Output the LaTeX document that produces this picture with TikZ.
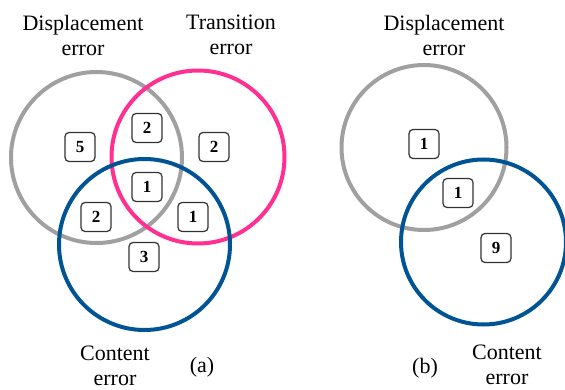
\documentclass[tikz,border=0pt]{standalone}
\usepackage{fontspec}
\setmainfont{Liberation Serif}
\newfontfamily\tnr{Liberation Serif}
\definecolor{dgray}{RGB}{160,160,160}
\definecolor{dpink}{RGB}{255,48,145}
\definecolor{dblue}{RGB}{0,84,148}
\begin{document}
\begin{tikzpicture}[x=1pt,y=-1pt,
  ring/.style={draw, line width=4pt},
  numbox/.style={draw=black!80, line width=1.2pt, rounded corners=4pt, minimum width=30pt, minimum height=29pt, inner sep=0pt, font=\tnr\fontsize{17}{17}\selectfont\bfseries},
  lbl/.style={align=center, font=\tnr\fontsize{22}{25}\selectfont}]
\useasboundingbox (0,0) rectangle (565,390);
% (a)
\draw[ring, dgray] (96.5,157.5) circle (85.5);
\draw[ring, dpink] (198,157) circle (86.5);
\draw[ring, dblue] (144.5,244.5) circle (85.5);
\node[numbox] (a5) at (80,147) {5};
\node[numbox] (a2t) at (147,128) {2};
\node[numbox] (a2r) at (214,147) {2};
\node[numbox] (a1c) at (147,187) {1};
\node[numbox] (a2l) at (96,217) {2};
\node[numbox] (a1r) at (193,217) {1};
\node[numbox] (a3) at (144,257) {3};
\node[lbl] (ad) at (83,35) {Displacement\\error};
\node[lbl] (at) at (231,35) {Transition\\error};
\node[lbl] (ac) at (115,366) {Content\\error};
\node[lbl] (acap) at (202,367) {(a)};
% (b)
\draw[ring, dgray] (424,147.5) circle (82.5);
\draw[ring, dblue] (483.5,242) circle (82.5);
\node[numbox] (b1t) at (424,144) {1};
\node[numbox] (b1m) at (458,193) {1};
\node[numbox] (b9) at (496,248) {9};
\node[lbl] (bd) at (444,35) {Displacement\\error};
\node[lbl] (bc) at (507,365) {Content\\error};
\node[lbl] (bcap) at (425,368) {(b)};
\end{tikzpicture}
\end{document}
